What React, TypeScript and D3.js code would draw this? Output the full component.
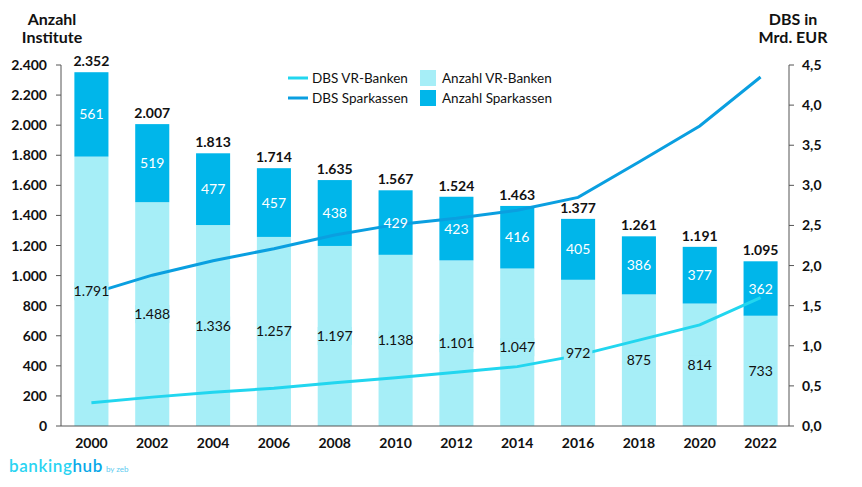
import React from "react";
import * as d3 from "d3";

const years = ["2000","2002","2004","2006","2008","2010","2012","2014","2016","2018","2020","2022"];
const vrBanken = [1791,1488,1336,1257,1197,1138,1101,1047,972,875,814,733];
const sparkassen = [561,519,477,457,438,429,423,416,405,386,377,362];
const totals = [2352,2007,1813,1714,1635,1567,1524,1463,1377,1261,1191,1095];
const dbsVR = [0.29,0.36,0.42,0.47,0.54,0.60,0.67,0.74,0.88,1.07,1.26,1.60];
const dbsSpk = [1.65,1.88,2.06,2.21,2.38,2.51,2.59,2.69,2.85,3.29,3.74,4.35];
const leftTicks = [0,200,400,600,800,1000,1200,1400,1600,1800,2000,2200,2400];
const rightTicks = [0,0.5,1,1.5,2,2.5,3,3.5,4,4.5];

const C_VR = "#a6eef7";
const C_SPK = "#00b6ea";
const C_LVR = "#22d6ef";
const C_LSPK = "#0a9fe0";
const FONT = "Lato, 'Open Sans', sans-serif";

const fmt = (n: number) => d3.format(",")(n).replace(/,/g, ".");
const fmtR = (n: number) => n.toFixed(1).replace(".", ",");

export default function App() {
  const W = 862, H = 487;
  const left = 61, right = 789, top = 65, bottom = 426;
  const x = d3.scaleBand().domain(years).range([61, 791]).paddingInner(0.44).paddingOuter(0.22);
  const yL = d3.scaleLinear().domain([0, 2400]).range([bottom, top]);
  const yR = d3.scaleLinear().domain([0, 4.5]).range([bottom, top]);
  const bw = x.bandwidth();
  const cx = (y: string) => (x(y) as number) + bw / 2;
  const lineGen = d3.line<number>().x((_, i) => cx(years[i])).y(d => yR(d)).curve(d3.curveLinear);

  return (
    <svg width={W} height={H} style={{ position: "absolute", left: 0, top: 0, fontFamily: FONT }}>
      <rect width={W} height={H} fill="#fff" />
      {/* titles */}
      <text x={52} y={25} textAnchor="middle" fontWeight={700} fontSize={16} fill="#111">Anzahl</text>
      <text x={52} y={43} textAnchor="middle" fontWeight={700} fontSize={16} fill="#111">Institute</text>
      <text x={793} y={25} textAnchor="middle" fontWeight={700} fontSize={16} fill="#111">DBS in</text>
      <text x={793} y={43} textAnchor="middle" fontWeight={700} fontSize={16} fill="#111">Mrd. EUR</text>

      {/* bars */}
      {years.map((yr, i) => (
        <g key={yr}>
          <rect x={x(yr)} width={bw} y={yL(vrBanken[i])} height={bottom - yL(vrBanken[i])} fill={C_VR} />
          <rect x={x(yr)} width={bw} y={yL(totals[i])} height={yL(vrBanken[i]) - yL(totals[i])} fill={C_SPK} />
        </g>
      ))}

      {/* lines */}
      <path d={lineGen(dbsVR) || ""} fill="none" stroke={C_LVR} strokeWidth={3} />
      <path d={lineGen(dbsSpk) || ""} fill="none" stroke={C_LSPK} strokeWidth={3} />

      {/* labels */}
      {years.map((yr, i) => {
        const midVR = (yL(0) + yL(vrBanken[i])) / 2;
        const midSpk = (yL(vrBanken[i]) + yL(totals[i])) / 2;
        const t = fmt(vrBanken[i]);
        const tw = Math.min(t.length * 7.5 + 6, bw);
        return (
          <g key={"l" + yr} fontSize={14}>
            <rect x={cx(yr) - tw / 2} y={midVR - 9} width={tw} height={18} fill={C_VR} />
            <text x={cx(yr)} y={midVR + 5} textAnchor="middle" fill="#111">{t}</text>
            <text x={cx(yr)} y={midSpk + 5} textAnchor="middle" fill="#fff">{fmt(sparkassen[i])}</text>
            <text x={cx(yr)} y={yL(totals[i]) - 6} textAnchor="middle" fontWeight={700} fill="#111">{fmt(totals[i])}</text>
            <text x={cx(yr)} y={448} textAnchor="middle" fontWeight={700} fill="#111">{yr}</text>
          </g>
        );
      })}

      {/* axes */}
      <line x1={left} x2={left} y1={top} y2={bottom} stroke="#555" />
      <line x1={right} x2={right} y1={top} y2={bottom} stroke="#555" />
      <line x1={left} x2={right} y1={bottom} y2={bottom} stroke="#555" />
      {leftTicks.map(t => (
        <g key={"lt" + t}>
          <line x1={left - 5} x2={left} y1={yL(t)} y2={yL(t)} stroke="#555" />
          <text x={47} y={yL(t) + 5} textAnchor="end" fontWeight={700} fontSize={14} fill="#111">{fmt(t)}</text>
        </g>
      ))}
      {rightTicks.map(t => (
        <g key={"rt" + t}>
          <line x1={right} x2={right + 5} y1={yR(t)} y2={yR(t)} stroke="#555" />
          <text x={802} y={yR(t) + 5} textAnchor="start" fontWeight={700} fontSize={14} fill="#111">{fmtR(t)}</text>
        </g>
      ))}

      {/* legend */}
      <g fontSize={13.5} fill="#111">
        <line x1={288} x2={308} y1={78} y2={78} stroke={C_LVR} strokeWidth={3} />
        <text x={312} y={83}>DBS VR-Banken</text>
        <line x1={288} x2={308} y1={98} y2={98} stroke={C_LSPK} strokeWidth={3} />
        <text x={312} y={103}>DBS Sparkassen</text>
        <rect x={420} y={70} width={16} height={16} fill={C_VR} />
        <text x={442} y={83}>Anzahl VR-Banken</text>
        <rect x={420} y={90} width={16} height={16} fill={C_SPK} />
        <text x={442} y={103}>Anzahl Sparkassen</text>
      </g>

      {/* logo */}
      <text x={9} y={472} fontWeight={600} fontSize={17} letterSpacing={0.6}>
        <tspan fill="#2ad4f2">banking</tspan>
        <tspan fill="#0aa8e8">hub</tspan>
        <tspan fill="#5ccbf0" fontSize={8} fontWeight={400} letterSpacing={0} dx={3}>by zeb</tspan>
      </text>
    </svg>
  );
}
